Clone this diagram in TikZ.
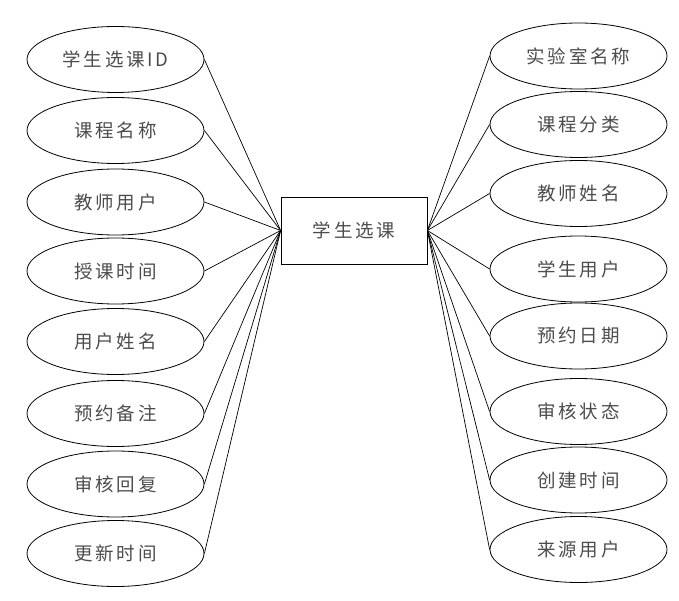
\documentclass[tikz,border=0pt]{standalone}
\usepackage{fontspec}
\newfontfamily\cjk[LetterSpace=15]{Noto Sans CJK SC}
\usetikzlibrary{shapes.geometric}
\begin{document}
\begin{tikzpicture}[x=1pt,y=-1pt,
  attr/.style={draw, ellipse, line width=0.8pt, minimum width=177pt, minimum height=66pt, inner sep=0pt, font=\cjk\fontsize{18.5}{20}\selectfont, text=black!70},
  ent/.style={draw, rectangle, line width=0.8pt, minimum width=146pt, minimum height=67pt, inner sep=0pt, font=\cjk\fontsize{18.5}{20}\selectfont, text=black!70},
  link/.style={line width=0.7pt}]
\useasboundingbox (0,0) rectangle (679,601);
\node[ent] (c) at (354,230.5) {学生选课};
\node[attr] (l1) at (115.5,59.5) {学生选课ID};
\node[attr] (l2) at (115.5,130.5) {课程名称};
\node[attr] (l3) at (115.5,202) {教师用户};
\node[attr] (l4) at (115.5,271) {授课时间};
\node[attr] (l5) at (115.5,341.5) {用户姓名};
\node[attr] (l6) at (115.5,413.5) {预约备注};
\node[attr] (l7) at (115.5,484) {审核回复};
\node[attr] (l8) at (115.5,553.5) {更新时间};
\node[attr] (r1) at (578.5,56) {实验室名称};
\node[attr] (r2) at (578.5,124.5) {课程分类};
\node[attr] (r3) at (578.5,193.5) {教师姓名};
\node[attr] (r4) at (578.5,269) {学生用户};
\node[attr] (r5) at (578.5,336) {预约日期};
\node[attr] (r6) at (578.5,411.5) {审核状态};
\node[attr] (r7) at (578.5,480) {创建时间};
\node[attr] (r8) at (578.5,549.5) {来源用户};
\foreach \n in {l1,l2,l3,l4,l5,l6,l7,l8} \draw[link] (\n.east) -- (c.west);
\foreach \n in {r1,r2,r3,r4,r5,r6,r7,r8} \draw[link] (c.east) -- (\n.west);
\end{tikzpicture}
\end{document}
